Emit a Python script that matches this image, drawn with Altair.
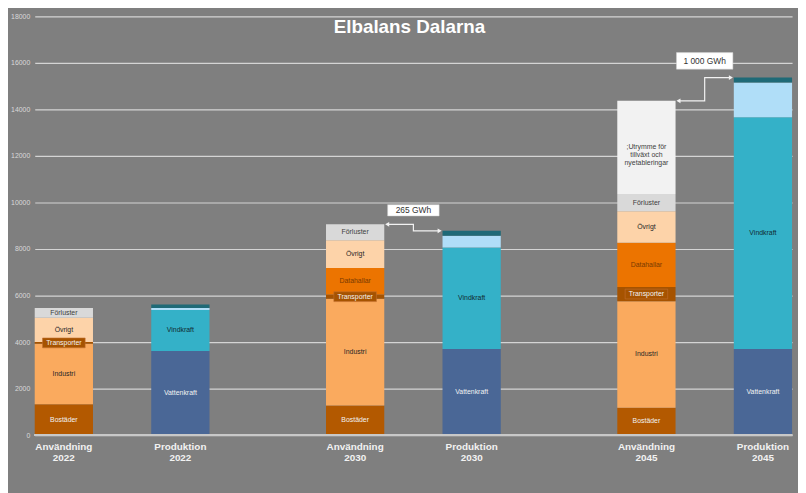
import altair as alt
import pandas as pd

# ---------------- data ----------------
years = ["2022", "2030", "2045"]
kinds = ["Användning", "Produktion"]

use_segments = ["Bostäder", "Industri", "Transporter", "Datahallar", "Övrigt", "Förluster", "Utrymme"]
use_2022 = [1330, 2600, 70, 0, 1050, 410, 0]
use_2030 = [1270, 4590, 180, 1140, 1200, 680, 0]
use_2045 = [1180, 4580, 610, 1900, 1350, 750, 4000]

prod_segments = ["Vattenkraft", "Vindkraft", "Solkraft", "Övrig produktion"]
prod_2022 = [3620, 1760, 80, 160]
prod_2030 = [3700, 4370, 500, 210]
prod_2045 = [3700, 9960, 1500, 210]

segment_text = {
    "Bostäder": "Bostäder",
    "Industri": "Industri",
    "Transporter": "Transporter",
    "Datahallar": "Datahallar",
    "Övrigt": "Övrigt",
    "Förluster": "Förluster",
    "Utrymme": ";Utrymme för\ntillväxt och\nnyetableringar",
    "Vattenkraft": "Vattenkraft",
    "Vindkraft": "Vindkraft",
    "Solkraft": "",
    "Övrig produktion": "",
}

gap_years = ["2030", "2045"]
gap_texts = ["265 GWh", "1 000 GWh"]

y_ticks = [0, 2000, 4000, 6000, 8000, 10000, 12000, 14000, 16000, 18000]

title_text = "Elbalans Dalarna"

# ---------------- styles ----------------
all_segments = use_segments + prod_segments
bar_colors = ["#B35900", "#FAAA5E", "#A65300", "#EC7400", "#FDD3A9", "#D9D9D9", "#F2F2F2",
              "#4A6796", "#34B1C8", "#B0DEF8", "#1F6A77"]
text_colors = ["#F2F2F2", "#262626", "#F2F2F2", "#7A3A00", "#262626", "#404040", "#404040",
               "#F2F2F2", "#102A30", "#000000", "#000000"]
FONT = "Liberation Sans"
GROUP_SLOTS = 5
PAIR_SLOTS = 2
GAP = 0.05

values = {
    ("2022", "Användning"): use_2022, ("2030", "Användning"): use_2030, ("2045", "Användning"): use_2045,
    ("2022", "Produktion"): prod_2022, ("2030", "Produktion"): prod_2030, ("2045", "Produktion"): prod_2045,
}

rows, xlab, totals, positions = [], [], {}, {}
for gi, year in enumerate(years):
    for ti, kind in enumerate(kinds):
        segs = use_segments if kind == "Användning" else prod_segments
        vals = values[(year, kind)]
        pos = gi * GROUP_SLOTS + ti * PAIR_SLOTS
        base = 0
        for order, (seg, v) in enumerate(zip(segs, vals)):
            if v <= 0:
                continue
            rows.append(dict(year=year, kind=kind, segment=seg, order=order,
                             start=base, end=base + v, mid=base + v / 2,
                             pos=pos, x0=pos - 0.5, x1=pos + 0.5, label=segment_text[seg]))
            base += v
        totals[(year, kind)] = base
        positions[(year, kind)] = pos
        xlab.append(dict(pos=pos, text=f"{kind}\n{year}"))

bars_df = pd.DataFrame(rows)
xlab_df = pd.DataFrame(xlab)

conn_rows, head_rows, ann_rows = [], [], []
for year, txt in zip(gap_years, gap_texts):
    up, pp = positions[(year, "Användning")], positions[(year, "Produktion")]
    ut, pt = totals[(year, "Användning")], totals[(year, "Produktion")]
    mid = (up + pp) / 2
    pts = [(up + 0.5 + GAP, ut), (mid, ut), (mid, pt), (pp - 0.5 - GAP, pt)]
    for i, (x, y) in enumerate(pts):
        conn_rows.append(dict(year=year, i=i, x=x, y=y))
    head_rows.append(dict(x=pts[0][0], y=ut, shape="triangle-left"))
    head_rows.append(dict(x=pts[-1][0], y=pt, shape="triangle-right"))
    ann_rows.append(dict(year=year, x=mid, y=max(ut, pt), text=txt))

conn_df = pd.DataFrame(conn_rows)
head_df = pd.DataFrame(head_rows)
ann_df = pd.DataFrame(ann_rows)

XS = alt.Scale(domain=[-0.5, 12.5], nice=False, zero=False)
YS = alt.Scale(domain=[0, 18000], nice=False)
YAX = alt.Axis(values=y_ticks, grid=True, gridColor="#D4D4D4", gridWidth=1.2,
               domain=False, ticks=False, labelColor="#D9D9D9", labelFontSize=7, labelFont=FONT,
               labelPadding=5, title=None, format="d")


def X(f):
    return alt.X(f, scale=XS, axis=None)


def Y(f):
    return alt.Y(f, scale=YS, axis=YAX)


bars = alt.Chart(bars_df).mark_bar(strokeWidth=0).encode(
    x=X("x0:Q"),
    x2="x1:Q",
    y=Y("start:Q"),
    y2="end:Q",
    color=alt.Color("segment:N", scale=alt.Scale(domain=all_segments, range=bar_colors), legend=None),
)

baseline = alt.Chart(bars_df).transform_calculate(zero="0").mark_rule(
    color="#C8C8C8", strokeWidth=1.6
).encode(y=Y("zero:Q"))

trans_box = alt.Chart(bars_df).transform_filter(
    alt.datum.segment == "Transporter"
).mark_point(
    shape="M-1,-0.23L1,-0.23L1,0.23L-1,0.23Z", size=1850, filled=True, opacity=1,
    color="#A65300", stroke="#C27030", strokeWidth=0.6
).encode(x=X("pos:Q"), y=Y("mid:Q"))

seg_labels = alt.Chart(bars_df).transform_filter(
    alt.datum.label != ""
).mark_text(font=FONT, fontSize=7, baseline="middle", align="center", lineBreak="\n", lineHeight=8).encode(
    x=X("pos:Q"),
    y=Y("mid:Q"),
    text="label:N",
    color=alt.Color("segment:N", scale=alt.Scale(domain=all_segments, range=text_colors), legend=None),
)

x_labels = alt.Chart(xlab_df).transform_calculate(zero="0").mark_text(
    font=FONT, fontSize=10, fontWeight="bold", color="#F2F2F2", baseline="alphabetic",
    align="center", lineBreak="\n", lineHeight=11, dy=15.5
).encode(x=X("pos:Q"), y=Y("zero:Q"), text="text:N")

connectors = alt.Chart(conn_df).mark_line(color="#F2F2F2", strokeWidth=1.2, interpolate="linear").encode(
    x=X("x:Q"), y=Y("y:Q"), detail="year:N", order="i:Q",
)

heads = alt.Chart(head_df).mark_point(filled=True, size=22, color="#F2F2F2", opacity=1).encode(
    x=X("x:Q"), y=Y("y:Q"),
    shape=alt.Shape("shape:N", scale=None, legend=None),
)

ann_layers = []
box_shapes = {"2030": ("M-1,-0.22L1,-0.22L1,0.22L-1,0.22Z", 52, 11.4),
              "2045": ("M-1,-0.293L1,-0.293L1,0.293L-1,0.293Z", 57, 16.7)}
for year in gap_years:
    shp, w, h = box_shapes[year]
    off = -(8.5 + h / 2)
    sub = alt.Chart(ann_df).transform_filter(alt.datum.year == year)
    ann_layers.append(sub.mark_point(shape=shp, size=w * w, filled=True, opacity=1, color="#FFFFFF",
                                     stroke="#D0D0D0", strokeWidth=0.5, yOffset=off).encode(
        x=X("x:Q"), y=Y("y:Q"),
    ))
    ann_layers.append(sub.mark_text(font=FONT, fontSize=8.5, color="#333333", baseline="middle",
                                    align="center", dy=off).encode(
        x=X("x:Q"), y=Y("y:Q"), text="text:N",
    ))

chart = alt.layer(
    bars, baseline, trans_box, seg_labels, x_labels, connectors, heads, *ann_layers
).resolve_scale(color="independent").properties(
    width=765, height=423,
    autosize=alt.AutoSizeParams(type="none"),
    padding={"left": 27, "top": 6, "right": 6, "bottom": 56},
    background="#7F7F7F",
    title=alt.TitleParams(title_text, fontSize=19, fontWeight="bold", color="#FFFFFF", font=FONT,
                          anchor="middle", offset=-25, dx=-4),
).configure_view(stroke=None)

chart.save("out.html", embed_options={"renderer": "svg", "actions": False})
